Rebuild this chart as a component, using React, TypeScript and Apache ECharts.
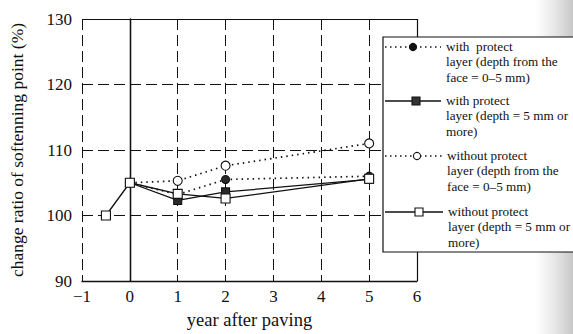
import React, { useEffect, useRef } from "react";
import * as echarts from "echarts";

const xTicks = [-1, 0, 1, 2, 3, 4, 5, 6];
const yTicks = [90, 100, 110, 120, 130];

const filledCircleX = [0, 1, 2, 5];
const filledCircleY = [105, 103.2, 105.5, 106];
const filledSquareX = [0, 1, 2, 5];
const filledSquareY = [105, 102.3, 103.6, 105.5];
const openCircleX = [0, 1, 2, 5];
const openCircleY = [105, 105.3, 107.6, 111];
const openSquareX = [-0.5, 0, 1, 2, 5];
const openSquareY = [100, 105, 103.3, 102.6, 105.6];

const legendLabels = [
  "with  protect\nlayer (depth from the\nface = 0\u20135 mm)",
  "with protect\nlayer (depth = 5 mm or\nmore)",
  "without protect\nlayer (depth from the\nface = 0\u20135 mm)",
  "without protect\nlayer (depth = 5 mm or\nmore)",
];

const FONT = "'Liberation Serif', 'DejaVu Serif', serif";
const INK = "#111";

function pairs(xs: number[], ys: number[]) {
  return xs.map((x, i) => [x, ys[i]]);
}

export default function App() {
  const ref = useRef<HTMLDivElement>(null);
  useEffect(() => {
    if (!ref.current) return;
    const chart = echarts.init(ref.current, null, { renderer: "svg" });

    const legendTop = [47, 101, 156, 212];
    const legendSym = [413, 416, 417, 419];
    const legendTextX = [446, 446, 447, 448];
    const legendGraphics: any[] = [
      {
        type: "rect",
        shape: { x: 383, y: 37, width: 200, height: 215 },
        style: { fill: "#fff", stroke: INK, lineWidth: 1.2 },
        z: 10,
      },
    ];
    legendLabels.forEach((lab, i) => {
      const y = legendTop[i];
      const dotted = i === 0 || i === 2;
      legendGraphics.push({
        type: "line",
        shape: { x1: 385, y1: y, x2: legendTextX[i] - 5, y2: y },
        style: {
          stroke: INK,
          lineWidth: dotted ? 1.6 : 1.3,
          lineDash: dotted ? [1.5, 3.5] : null,
        },
        z: 11,
      });
      const filled = i < 2;
      if (i === 0 || i === 2) {
        legendGraphics.push({
          type: "circle",
          shape: { cx: legendSym[i], cy: y, r: 3.6 },
          style: { fill: filled ? INK : "#fff", stroke: INK, lineWidth: 1.1 },
          z: 12,
        });
      } else {
        legendGraphics.push({
          type: "rect",
          shape: { x: legendSym[i] - 4, y: y - 4, width: 8, height: 8 },
          style: { fill: filled ? "#333" : "#fff", stroke: INK, lineWidth: 1.1 },
          z: 12,
        });
      }
      legendGraphics.push({
        type: "text",
        x: legendTextX[i],
        y: y - 8.5,
        style: {
          text: lab,
          font: `13.2px ${FONT}`,
          lineHeight: 15.5,
          fill: INK,
        },
        z: 12,
      });
    });

    const symSeries = (
      name: string,
      data: number[][],
      symbol: string,
      filled: boolean,
      dotted: boolean,
      size: number
    ) => ({
      name,
      type: "line",
      data,
      symbol,
      symbolSize: size,
      itemStyle: {
        color: filled ? "#2a2a2a" : "#fff",
        borderColor: INK,
        borderWidth: 1.1,
      },
      lineStyle: {
        color: INK,
        width: dotted ? 1.7 : 1.3,
        type: dotted ? [1.5, 4] : "solid",
      },
      z: 5,
    });

    chart.setOption({
      animation: false,
      backgroundColor: "#fff",
      grid: { left: 80, right: 156, top: 19, bottom: 51 },
      xAxis: {
        type: "value",
        min: xTicks[0],
        max: xTicks[xTicks.length - 1],
        interval: 1,
        name: "year after paving",
        nameLocation: "middle",
        nameGap: 29,
        nameTextStyle: { fontFamily: FONT, fontSize: 18.5, color: INK },
        axisLine: { show: true, lineStyle: { color: INK, width: 1.4 } },
        axisTick: { show: false },
        axisLabel: {
          fontFamily: FONT,
          fontSize: 17,
          color: INK,
          margin: 7,
          formatter: (v: number) => (v < 0 ? "\u2212" + Math.abs(v) : String(v)),
        },
        splitLine: {
          show: true,
          lineStyle: { color: INK, type: [11, 5], width: 1 },
        },
      },
      yAxis: {
        type: "value",
        min: yTicks[0],
        max: yTicks[yTicks.length - 1],
        interval: 10,
        name: "change ratio of softenning point (%)",
        nameLocation: "middle",
        nameGap: 56,
        nameTextStyle: { fontFamily: FONT, fontSize: 17.5, color: INK },
        axisLine: { show: true, lineStyle: { color: INK, width: 1.4 } },
        axisTick: { show: false },
        axisLabel: { fontFamily: FONT, fontSize: 17, color: INK, margin: 10 },
        splitLine: {
          show: true,
          lineStyle: { color: INK, type: [11, 5], width: 1 },
        },
      },
      series: [
        {
          type: "line",
          data: [],
          silent: true,
          markLine: {
            silent: true,
            symbol: "none",
            label: { show: false },
            lineStyle: { color: INK, type: "solid", width: 1.2 },
            data: [{ xAxis: 0 }, { xAxis: 6 }, { yAxis: 130 }],
          },
        },
        symSeries("with protect (0-5 mm)", pairs(filledCircleX, filledCircleY), "circle", true, true, 8),
        symSeries("with protect (5 mm or more)", pairs(filledSquareX, filledSquareY), "rect", true, false, 8),
        symSeries("without protect (0-5 mm)", pairs(openCircleX, openCircleY), "circle", false, true, 9),
        symSeries("without protect (5 mm or more)", pairs(openSquareX, openSquareY), "rect", false, false, 9),
      ],
      graphic: [
        {
          type: "rect",
          shape: { x: 535, y: 0, width: 38, height: 334 },
          style: {
            fill: {
              type: "linear",
              x: 0, y: 0, x2: 1, y2: 0,
              colorStops: [
                { offset: 0, color: "rgba(200,200,200,0)" },
                { offset: 1, color: "rgba(175,175,175,0.7)" },
              ],
            },
          },
          silent: true,
          z: 0,
        },
        ...legendGraphics,
      ],
    });
    return () => chart.dispose();
  }, []);
  return (
    <div
      ref={ref}
      style={{ position: "fixed", left: 0, top: 0, width: 573, height: 334 }}
    />
  );
}
